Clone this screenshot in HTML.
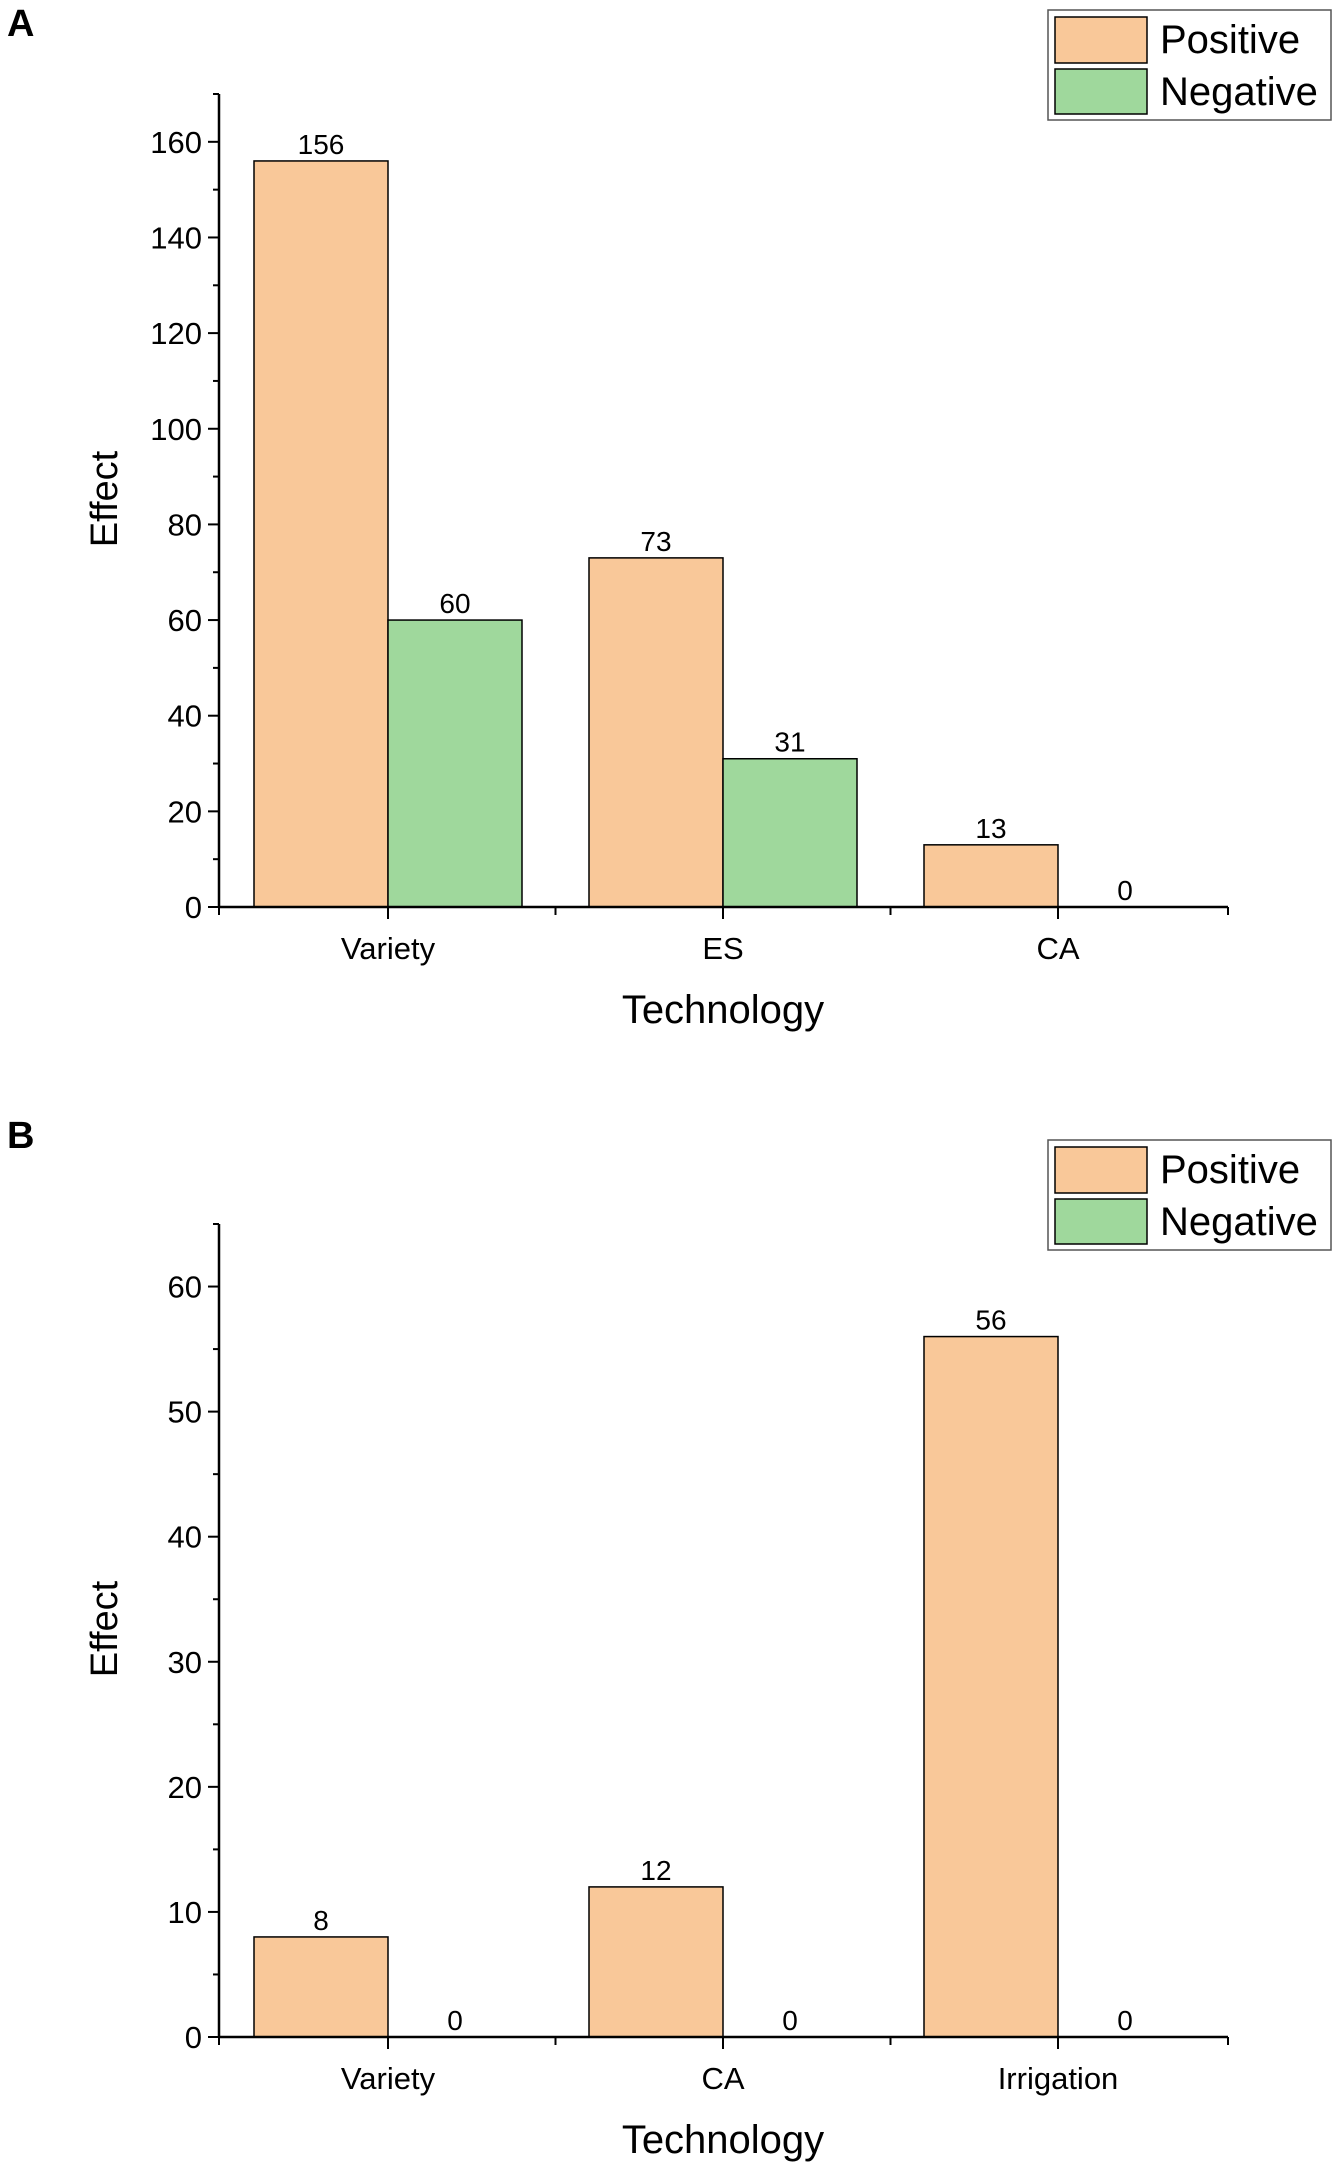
<!DOCTYPE html>
<html><head><meta charset="utf-8"><style>
html,body{margin:0;padding:0;background:#fff;}
svg{display:block;font-family:"Liberation Sans",Arial,sans-serif;}
</style></head><body>
<svg id="fig" width="1338" height="2172" viewBox="0 0 1338 2172"></svg>
<script>
const catsA = ["Variety","ES","CA"];
const posA = [156,73,13];
const negA = [60,31,0];
const ticksA = [0,20,40,60,80,100,120,140,160];
const catsB = ["Variety","CA","Irrigation"];
const posB = [8,12,56];
const negB = [0,0,0];
const ticksB = [0,10,20,30,40,50,60];

const NS="http://www.w3.org/2000/svg";
const svg=document.getElementById('fig');
function mk(tag,attrs,parent,text){const e=document.createElementNS(NS,tag);for(const k in attrs)e.setAttribute(k,attrs[k]);if(text!==undefined)e.textContent=text;(parent||svg).appendChild(e);return e;}

function panel(o){
  const g=mk('g',{});
  
  
  const x0=219,x1=1228,y0=o.zero,yTop=o.top;
  const ys=v=>y0-(v/o.max)*(y0-yTop);
  const step=335, c0=388, bw=134;
  const lt=mk('text',{x:7,y:o.labelY,'font-size':38,'font-weight':'bold',fill:'#000'},g,o.letter);
  
  
  o.cats.forEach((c,i)=>{
    const cx=c0+i*step;
    const pv=o.pos[i],nv=o.neg[i];
    const pb=mk('rect',{x:cx-bw,y:ys(pv),width:bw,height:y0-ys(pv),fill:'#F9C899',stroke:'#000','stroke-width':1.5},g);
    
    
    if(nv>0){
      const nb=mk('rect',{x:cx,y:ys(nv),width:bw,height:y0-ys(nv),fill:'#9FD89C',stroke:'#000','stroke-width':1.5},g);
      
      
    }
    const pl=mk('text',{x:cx-bw/2,y:ys(pv)-7,'font-size':28,'text-anchor':'middle'},g,String(pv));
    
    
    const nl=mk('text',{x:cx+bw/2,y:ys(nv)-7,'font-size':28,'text-anchor':'middle'},g,String(nv));
    
    
    const cl=mk('text',{x:cx,y:y0+52,'font-size':31,'text-anchor':'middle'},g,c);
    
    
    mk('line',{x1:cx,y1:y0,x2:cx,y2:y0+12,stroke:'#000','stroke-width':2},g);
  });
  [x0, c0+step/2, c0+step*1.5, x1].forEach(x=>mk('line',{x1:x,y1:y0,x2:x,y2:y0+8,stroke:'#000','stroke-width':2},g));
  mk('line',{x1:x0,y1:yTop,x2:x0,y2:y0+1,stroke:'#000','stroke-width':2.5},g);
  mk('line',{x1:x0-1,y1:y0,x2:x1,y2:y0,stroke:'#000','stroke-width':2.5},g);
  o.ticks.forEach(t=>{
    const y=ys(t);
    mk('line',{x1:x0-11,y1:y,x2:x0,y2:y,stroke:'#000','stroke-width':2},g);
    const tl=mk('text',{x:x0-17,y:y+11,'font-size':31,'text-anchor':'end'},g,String(t));
    
    
  });
  for(let v=o.minor;v<=o.max && ys(v)>=yTop;v+=o.minor*2){
    mk('line',{x1:x0-6,y1:ys(v),x2:x0,y2:ys(v),stroke:'#000','stroke-width':2},g);
  }
  const yt=mk('text',{x:0,y:0,'font-size':38,'text-anchor':'middle',transform:`translate(117 ${o.effY}) rotate(-90)`},g,'Effect');
  
  
  const xt=mk('text',{x:723,y:o.techY,'font-size':40,'text-anchor':'middle'},g,'Technology');
  
  
  const lg=mk('g',{},g);
  
  
  const ly=o.legY;
  mk('rect',{x:1048,y:ly,width:283,height:110,fill:'#fff',stroke:'#555','stroke-width':1.5},lg);
  mk('rect',{x:1055,y:ly+7,width:92,height:46,fill:'#F9C899',stroke:'#000','stroke-width':1.5},lg);
  mk('rect',{x:1055,y:ly+59,width:92,height:45,fill:'#9FD89C',stroke:'#000','stroke-width':1.5},lg);
  const e1=mk('text',{x:1160,y:ly+43,'font-size':40},lg,'Positive');
  
  
  const e2=mk('text',{x:1160,y:ly+95,'font-size':40},lg,'Negative');
  
  
}
panel({name:'panel-a',letter:'A',labelY:36,cats:catsA,pos:posA,neg:negA,ticks:ticksA,max:170,minor:10,zero:907,top:94,effY:499,techY:1023,legY:10});
panel({name:'panel-b',letter:'B',labelY:1148,cats:catsB,pos:posB,neg:negB,ticks:ticksB,max:65,minor:5,zero:2037,top:1224,effY:1629,techY:2153,legY:1140});
</script>
</body></html>
